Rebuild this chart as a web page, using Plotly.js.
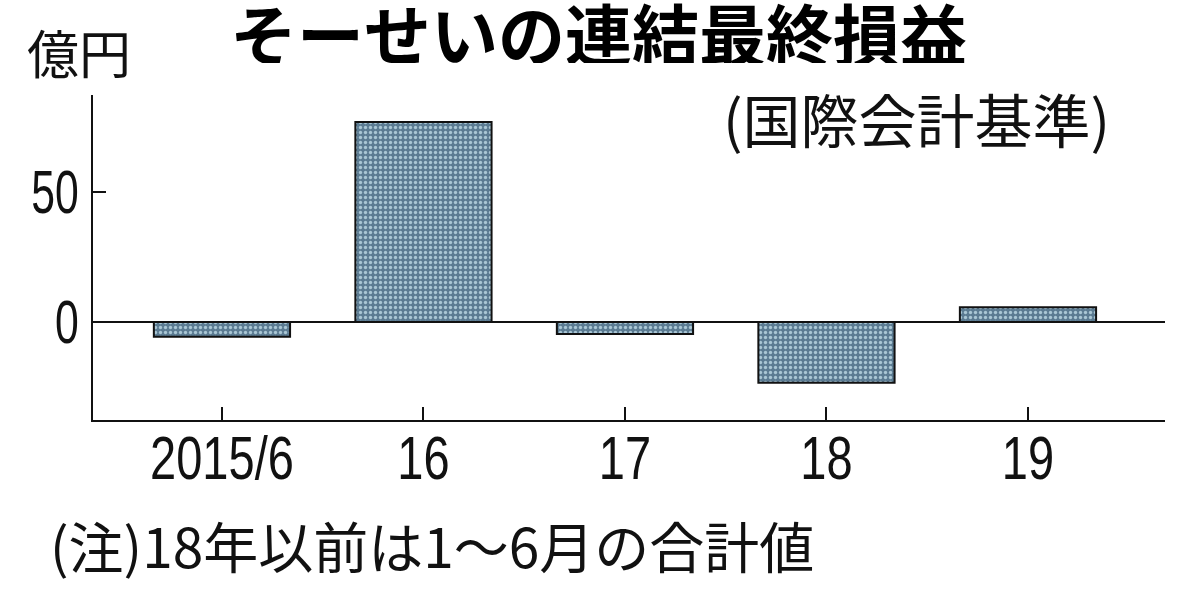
<!DOCTYPE html>
<html>
<head>
<meta charset="utf-8">
<script src="https://cdn.plot.ly/plotly-3.0.1.min.js"></script>
<style>html,body{margin:0;padding:0;background:#fff;}#chart{width:1200px;height:600px;}</style>
</head>
<body>
<div id="chart"></div>
<script>
const categories = ['2015/6', '16', '17', '18', '19'];
const values = [-5.7, 76.9, -4.6, -23.4, 5.7];
const yTickVals = [0, 50];
const yTickText = ['0', '50'];
const titleText = 'そーせいの連結最終損益';
const unitText = '億円';
const standardText = '(国際会計基準)';
const noteText = '(注)18年以前は1〜6月の合計値';

const jp = '"Noto Sans CJK JP", "Noto Sans", sans-serif';
const num = '"Liberation Sans", "Noto Sans", sans-serif';

const trace = {
  type: 'bar',
  x: categories,
  y: values,
  width: 0.676,
  marker: {
    color: '#5b7b92',
    line: {color: '#111', width: 2},
    pattern: {shape: '.', bgcolor: '#5b7b92', fgcolor: '#a9c6d4', size: 5, solidity: 0.35}
  },
  hoverinfo: 'none'
};

const layout = {
  width: 1200, height: 600,
  margin: {l: 93, r: 35, t: 95, b: 180},
  paper_bgcolor: '#fff', plot_bgcolor: '#fff',
  showlegend: false,
  xaxis: {
    type: 'category',
    range: [-0.64, 4.68],
    showline: true, linecolor: '#111', linewidth: 2,
    ticks: 'inside', ticklen: 13, tickwidth: 2, tickcolor: '#111',
    showgrid: false, zeroline: false,
    tickfont: {family: num, size: 61, color: '#111'},
    fixedrange: true
  },
  yaxis: {
    range: [-37.7, 87.3],
    showline: true, linecolor: '#111', linewidth: 2,
    ticks: 'inside', ticklen: 13, tickwidth: 2, tickcolor: '#111',
    tickvals: yTickVals, ticktext: yTickText,
    showgrid: false,
    zeroline: true, zerolinecolor: '#111', zerolinewidth: 2,
    tickfont: {family: num, size: 61, color: '#111'},
    fixedrange: true
  },
  annotations: [
    {text: '<b>' + titleText + '</b>', xref: 'paper', yref: 'paper', x: 0.472, y: 1.198,
     xanchor: 'center', yanchor: 'middle', showarrow: false, height: 64, valign: 'middle',
     font: {family: jp, size: 67, color: '#000'}},
    {text: unitText, xref: 'paper', yref: 'paper', x: -0.063, y: 1.133,
     xanchor: 'left', yanchor: 'middle', showarrow: false,
     font: {family: jp, size: 52, color: '#111'}},
    {text: standardText, xref: 'paper', yref: 'paper', x: 0.768, y: 0.93,
     xanchor: 'center', yanchor: 'middle', showarrow: false,
     font: {family: jp, size: 58, color: '#111'}},
    {text: noteText, xref: 'paper', yref: 'paper', x: -0.042, y: -0.382,
     xanchor: 'left', yanchor: 'middle', showarrow: false,
     font: {family: jp, size: 55, color: '#111'}}
  ]
};

Plotly.newPlot('chart', [trace], layout, {staticPlot: true, displayModeBar: false}).then(function () {
  document.querySelectorAll('.xtick text').forEach(function (t) {
    const w = t.getComputedTextLength();
    t.setAttribute('textLength', (w * 0.77).toFixed(1));
    t.setAttribute('lengthAdjust', 'spacingAndGlyphs');
    const y = parseFloat(t.getAttribute('y')) || 0;
    t.setAttribute('y', (y - 16).toFixed(1));
  });
  document.querySelectorAll('.ytick text').forEach(function (t) {
    const w = t.getComputedTextLength();
    t.setAttribute('textLength', (w * 0.70).toFixed(1));
    t.setAttribute('lengthAdjust', 'spacingAndGlyphs');
  });
});
</script>
</body>
</html>
